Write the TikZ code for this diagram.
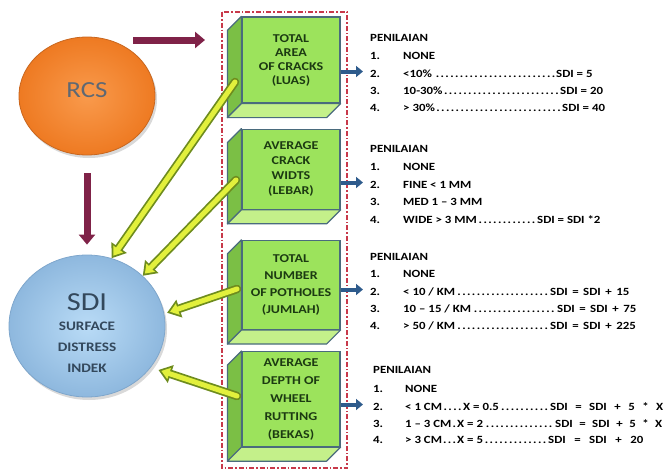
\documentclass[tikz,border=0pt]{standalone}
\usepackage{fontspec}
\setmainfont{Carlito}[FakeStretch=1.17]
\usetikzlibrary{positioning}
\usetikzlibrary{calc}
\usetikzlibrary{shapes.geometric}
\usetikzlibrary{arrows.meta}
\usetikzlibrary{shadows}

\definecolor{rcsorange}{HTML}{EE7A22}
\definecolor{rcslight}{HTML}{F99A4C}
\definecolor{rcsrim}{HTML}{C8661E}
\definecolor{rcstext}{HTML}{5E6873}
\definecolor{sdiblue}{HTML}{8EB8DE}
\definecolor{sdilight}{HTML}{B9DBF6}
\definecolor{sdirim}{HTML}{7EA6CC}
\definecolor{sditext}{HTML}{33485C}
\definecolor{boxfront}{HTML}{9CE35C}
\definecolor{boxside}{HTML}{7BBF45}
\definecolor{boxbottom}{HTML}{C4F08A}
\definecolor{boxedge}{HTML}{4A6B7D}
\definecolor{boxtext}{HTML}{1C3A12}
\definecolor{yfill}{HTML}{E2F03C}
\definecolor{yedge}{HTML}{6E8C1E}
\definecolor{arrowmaroon}{HTML}{7F2248}
\definecolor{arrowblue}{HTML}{2E5B8C}
\definecolor{framered}{HTML}{C8394A}

\begin{document}
\begin{tikzpicture}[x=1pt, y=-1pt,
            rcsnode/.style={ellipse, inner sep=0pt, minimum width=136pt, minimum height=118pt, inner color=rcslight, outer color=rcsorange, draw=rcsrim, thick, drop shadow={shadow xshift=2pt, shadow yshift=-3pt, opacity=0.3}},
            sdinode/.style={ellipse, inner sep=0pt, minimum width=156pt, minimum height=142pt, inner color=sdilight, outer color=sdiblue, draw=sdirim, thick, drop shadow={shadow xshift=2pt, shadow yshift=-3pt, opacity=0.3}},
            greenfront/.style={rectangle, draw=boxedge, line width=1.2pt, fill=boxfront, minimum width=98pt, inner sep=0pt, align=center, text=boxtext, font=\fontsize{12}{14}\selectfont\bfseries},
            greenside/.style={draw=boxedge, line width=1.2pt, fill=boxside, line join=round},
            greenbottom/.style={draw=boxedge, line width=1.2pt, fill=boxbottom, line join=round},
            listhead/.style={anchor=base west, inner sep=0pt, font=\fontsize{11}{13}\selectfont\bfseries},
            listline/.style={listhead, text height=11pt, text depth=0pt},
            maroonarrow/.style={-{Triangle[length=10pt, width=16pt]}, line width=7pt, draw=arrowmaroon},
            bluearrow/.style={-{Triangle[length=7pt, width=11pt]}, line width=4pt, draw=arrowblue},
            yarrowout/.style={-{Triangle[length=13pt, width=18pt]}, line width=8.5pt, draw=yedge, line cap=round},
            yarrowin/.style={-{Triangle[length=8.2pt, width=11.4pt]}, line width=5pt, draw=yfill, line cap=round, shorten >=3.1pt},
            dashframe/.style={draw=framered, line width=1.3pt, dash pattern=on 5pt off 2pt on 1.5pt off 2pt},
            ]
            \useasboundingbox (0,0) rectangle (670,472);

            % frame round the criteria
            \draw[dashframe] (222,12) rectangle (347,468);

            % RCS and SDI
            \node[rcsnode, text depth=12pt, text=rcstext, font=\fontsize{23}{23}\selectfont] (rcs) at (87,96) {RCS};
            \node[sdinode] (sdi) at (87,326) {};
            \node[align=center, text=sditext, font=\fontsize{13}{21}\selectfont\bfseries] (sdilabel) at (87,333) {{\mdseries\fontsize{26}{26}\selectfont SDI}\\[-1pt]SURFACE\\DISTRESS\\INDEK};

            % criteria boxes
            \node[greenfront, minimum height=86pt] (b1) at (291,60) {TOTAL\\AREA\\OF CRACKS\\(LUAS)};
            \node[greenfront, minimum height=80pt, below=25pt of b1, font=\fontsize{12}{15}\selectfont\bfseries] (b2) {AVERAGE\\CRACK\\WIDTS\\(LEBAR)};
            \node[greenfront, minimum height=89pt, below=30pt of b2, font=\fontsize{12}{17}\selectfont\bfseries] (b3) {TOTAL\\NUMBER\\OF POTHOLES\\(JUMLAH)};
            \node[greenfront, minimum height=95pt, below=21pt of b3, font=\fontsize{12}{18}\selectfont\bfseries] (b4) {AVERAGE\\DEPTH OF\\WHEEL\\RUTTING\\(BEKAS)};

            \draw[greenside] (b1.north west) -- ++(-14,14) -- ($(b1.south west)+(-14,14)$) -- (b1.south west) -- cycle;
            \draw[greenbottom] (b1.south west) -- ++(-14,14) -- ($(b1.south east)+(-14,14)$) -- (b1.south east) -- cycle;
            \draw[greenside] (b2.north west) -- ++(-14,14) -- ($(b2.south west)+(-14,14)$) -- (b2.south west) -- cycle;
            \draw[greenbottom] (b2.south west) -- ++(-14,14) -- ($(b2.south east)+(-14,14)$) -- (b2.south east) -- cycle;
            \draw[greenside] (b3.north west) -- ++(-14,14) -- ($(b3.south west)+(-14,14)$) -- (b3.south west) -- cycle;
            \draw[greenbottom] (b3.south west) -- ++(-14,14) -- ($(b3.south east)+(-14,14)$) -- (b3.south east) -- cycle;
            \draw[greenside] (b4.north west) -- ++(-14,14) -- ($(b4.south west)+(-14,14)$) -- (b4.south west) -- cycle;
            \draw[greenbottom] (b4.south west) -- ++(-14,14) -- ($(b4.south east)+(-14,14)$) -- (b4.south east) -- cycle;

            % scores
            \node[listhead] (h1) at (370,41) {PENILAIAN};
            \node[listline] (l11) at (370,59) {\makebox[33pt][l]{1.}NONE};
            \node[listline] (l12) at (370,77) {\makebox[33pt][l]{2.}\makebox[153pt][l]{<10\% \dotfill}SDI = 5};
            \node[listline] (l13) at (370,94) {\makebox[33pt][l]{3.}\makebox[157pt][l]{10-30\%\dotfill}SDI = 20};
            \node[listline] (l14) at (370,111) {\makebox[33pt][l]{4.}\makebox[159pt][l]{> 30\%\dotfill}SDI = 40};

            \node[listhead] (h2) at (370,152) {PENILAIAN};
            \node[listline] (l21) at (370,170) {\makebox[33pt][l]{1.}NONE};
            \node[listline] (l22) at (370,188) {\makebox[33pt][l]{2.}FINE < 1 MM};
            \node[listline] (l23) at (370,205) {\makebox[33pt][l]{3.}MED 1 – 3 MM};
            \node[listline] (l24) at (370,223) {\makebox[33pt][l]{4.}\makebox[134pt][l]{WIDE > 3 MM\dotfill}SDI = SDI *2};

            \node[listhead] (h3) at (370,260) {PENILAIAN};
            \node[listline] (l31) at (370,277) {\makebox[33pt][l]{1.}NONE};
            \node[listline] (l32) at (370,295) {\makebox[33pt][l]{2.}\makebox[147pt][l]{< 10 / KM\dotfill}{\spaceskip=4.5pt SDI = SDI + 15}};
            \node[listline] (l33) at (370,312) {\makebox[33pt][l]{3.}\makebox[154pt][l]{10 – 15 / KM\dotfill}{\spaceskip=4.5pt SDI = SDI + 75}};
            \node[listline] (l34) at (370,329) {\makebox[33pt][l]{4.}\makebox[147pt][l]{> 50 / KM\dotfill}{\spaceskip=4.5pt SDI = SDI + 225}};

            \node[listhead] (h4) at (373,373) {PENILAIAN};
            \node[listline] (l41) at (373,392) {\makebox[32pt][l]{1.}NONE};
            \node[listline] (l42) at (373,410) {\makebox[32pt][l]{2.}\makebox[58pt][l]{< 1 CM\dotfill}\makebox[87pt][l]{X = 0.5\dotfill}{\spaceskip=7.5pt SDI = SDI + 5 * X}};
            \node[listline] (l43) at (373,427) {\makebox[32pt][l]{3.}\makebox[52pt][l]{1 – 3 CM\dotfill}\makebox[98pt][l]{X = 2\dotfill}{\spaceskip=6.5pt SDI = SDI + 5 * X}};
            \node[listline] (l44) at (373,443) {\makebox[32pt][l]{4.}\makebox[52pt][l]{> 3 CM\dotfill}\makebox[91pt][l]{X = 5\dotfill}{\spaceskip=8.5pt SDI = SDI + 20}};

            % connectors
            \coordinate (rcsout) at (133,40);
            \coordinate (rcsin) at (205,40);
            \draw[maroonarrow] (rcsout) -- (rcsin);
            \draw[maroonarrow, shorten <=18pt, shorten >=10pt] (rcs.south) -- (sdi.north);

            \draw[bluearrow, shorten >=7pt] (b1.east |- l12.west) -- (l12.west);
            \draw[bluearrow, shorten >=7pt] (b2.east |- l22.west) -- (l22.west);
            \draw[bluearrow, shorten >=7pt] (b3.east |- l32.west) -- (l32.west);
            \draw[bluearrow, shorten >=10pt] (b4.east |- l42.west) -- (l42.west);

            \coordinate (s1) at (235,82);
            \coordinate (s2) at (236,180);
            \coordinate (s3) at (237,289);
            \coordinate (s4) at (237,396);
            \draw[yarrowout] (s1) -- (sdi.70);
            \draw[yarrowin] (s1) -- (sdi.70);
            \draw[yarrowout] (s2) -- (sdi.42);
            \draw[yarrowin] (s2) -- (sdi.42);
            \draw[yarrowout, shorten >=3pt] (s3) -- (sdi.9);
            \draw[yarrowin, shorten >=6.1pt] (s3) -- (sdi.9);
            \draw[yarrowout, shorten >=8pt] (s4) -- (sdi.-33);
            \draw[yarrowin, shorten >=11.1pt] (s4) -- (sdi.-33);
        \end{tikzpicture}
\end{document}
